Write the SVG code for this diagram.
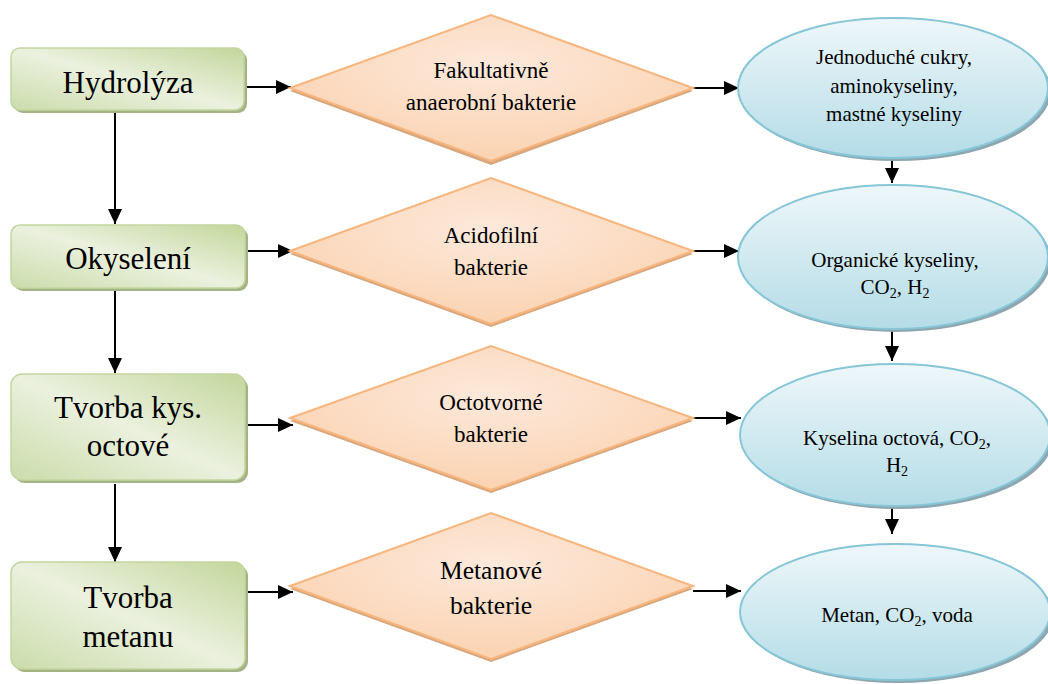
<svg xmlns="http://www.w3.org/2000/svg" width="1048" height="684" viewBox="0 0 1048 684">
<style>
.box{fill:url(#gBox);stroke:#c4d6a0;stroke-width:1.5}
.boxsh{fill:#a3b384}
.dia{fill:url(#gDia);stroke:#f8b67e;stroke-width:2}
.diash{fill:#d8a77d}
.ell{fill:url(#gEll);stroke:#86c6d6;stroke-width:2}
.ellsh{fill:#8ea6b0}
.t{fill:#000;text-anchor:middle}
.tb{font-size:31px}
.td{font-size:23px}
.te{font-size:21px}
.sub{font-size:14px}
.c{stroke:#000;stroke-width:2;fill:none}
</style>
<defs>
<linearGradient id="gBox" x1="1" y1="0" x2="0" y2="1">
<stop offset="0" stop-color="#c3d69b"/>
<stop offset="0.5" stop-color="#ebf1de"/>
<stop offset="1" stop-color="#cbdcab"/>
</linearGradient>
<radialGradient id="gDia" cx="0.5" cy="0.35" r="0.6">
<stop offset="0" stop-color="#fde9db"/>
<stop offset="1" stop-color="#fbd4b4"/>
</radialGradient>
<linearGradient id="gEll" x1="0" y1="0" x2="0" y2="1">
<stop offset="0" stop-color="#eef7fa"/>
<stop offset="1" stop-color="#b4dce7"/>
</linearGradient>
<marker id="ah" markerUnits="userSpaceOnUse" markerWidth="15" markerHeight="14" viewBox="0 0 15 14" refX="15" refY="7" orient="auto">
<path d="M0,0 L15,7 L0,14 z" fill="#000"/>
</marker>
</defs>
<g id="connectors">
<line class="c" x1="115" y1="110" x2="115" y2="224" marker-end="url(#ah)"/>
<line class="c" x1="115" y1="288" x2="115" y2="373" marker-end="url(#ah)"/>
<line class="c" x1="115" y1="484" x2="115" y2="562" marker-end="url(#ah)"/>
<line class="c" x1="245" y1="87" x2="291" y2="87" marker-end="url(#ah)"/>
<line class="c" x1="247" y1="251" x2="293" y2="251" marker-end="url(#ah)"/>
<line class="c" x1="247" y1="425" x2="293" y2="425" marker-end="url(#ah)"/>
<line class="c" x1="247" y1="592" x2="293" y2="592" marker-end="url(#ah)"/>
<line class="c" x1="693" y1="88" x2="739" y2="88" marker-end="url(#ah)"/>
<line class="c" x1="693" y1="251" x2="739" y2="251" marker-end="url(#ah)"/>
<line class="c" x1="693" y1="418" x2="741" y2="418" marker-end="url(#ah)"/>
<line class="c" x1="693" y1="591" x2="741" y2="591" marker-end="url(#ah)"/>
<line class="c" x1="892" y1="158" x2="892" y2="183" marker-end="url(#ah)"/>
<line class="c" x1="892" y1="330" x2="892" y2="361" marker-end="url(#ah)"/>
<line class="c" x1="892" y1="505" x2="892" y2="534" marker-end="url(#ah)"/>
</g>
<g font-family="'Liberation Serif', 'DejaVu Serif', serif">
<g id="box1">
<rect class="boxsh" x="14" y="51" width="233" height="62" rx="9"/>
<rect class="box" x="11" y="48" width="233" height="62" rx="9"/>
<text class="t tb" x="128" y="93">Hydrolýza</text>
</g>
<g id="box2">
<rect class="boxsh" x="14" y="228" width="234" height="63" rx="9"/>
<rect class="box" x="11" y="225" width="234" height="63" rx="9"/>
<text class="t tb" x="128" y="269">Okyselení</text>
</g>
<g id="box3">
<rect class="boxsh" x="14" y="377" width="234" height="106" rx="11"/>
<rect class="box" x="11" y="374" width="234" height="106" rx="11"/>
<text class="t tb" x="128" y="418">Tvorba kys.</text>
<text class="t tb" x="128" y="456">octové</text>
</g>
<g id="box4">
<rect class="boxsh" x="14" y="565" width="234" height="107" rx="11"/>
<rect class="box" x="11" y="562" width="234" height="107" rx="11"/>
<text class="t tb" x="128" y="608">Tvorba</text>
<text class="t tb" x="128" y="647">metanu</text>
</g>
<g id="dia1">
<polygon class="diash" points="290,91 491,18 693,91 491,165"/>
<polygon class="dia" points="290,88 491,15 693,88 491,161"/>
<text class="t td" x="491" y="78">Fakultativně</text>
<text class="t td" x="491" y="110">anaerobní bakterie</text>
</g>
<g id="dia2">
<polygon class="diash" points="290,254 491,181 693,254 491,327"/>
<polygon class="dia" points="290,251 491,178 693,251 491,324"/>
<text class="t td" x="491" y="243">Acidofilní</text>
<text class="t td" x="491" y="275">bakterie</text>
</g>
<g id="dia3">
<polygon class="diash" points="290,421 491,349 693,421 491,493"/>
<polygon class="dia" points="290,418 491,346 693,418 491,490"/>
<text class="t td" x="491" y="410">Octotvorné</text>
<text class="t td" x="491" y="442">bakterie</text>
</g>
<g id="dia4">
<polygon class="diash" points="290,589 491,516 693,589 491,662"/>
<polygon class="dia" points="290,586 491,513 693,586 491,659"/>
<text class="t" font-size="25.5" x="491" y="579">Metanové</text>
<text class="t" font-size="25.5" x="491" y="614">bakterie</text>
</g>
<g id="ell1">
<ellipse class="ellsh" cx="896" cy="91" rx="155" ry="70"/>
<ellipse class="ell" cx="893" cy="88" rx="155" ry="70"/>
<text class="t te" x="894" y="64">Jednoduché cukry,</text>
<text class="t te" x="894" y="93">aminokyseliny,</text>
<text class="t te" x="894" y="121">mastné kyseliny</text>
</g>
<g id="ell2">
<ellipse class="ellsh" cx="896" cy="260" rx="155" ry="72"/>
<ellipse class="ell" cx="893" cy="257" rx="155" ry="72"/>
<text class="t te" x="895" y="267">Organické kyseliny,</text>
<text class="t te" x="895" y="294">CO<tspan class="sub" dy="4">2</tspan><tspan dy="-4">, H</tspan><tspan class="sub" dy="4">2</tspan></text>
</g>
<g id="ell3">
<ellipse class="ellsh" cx="898" cy="438" rx="155" ry="71"/>
<ellipse class="ell" cx="895" cy="435" rx="155" ry="71"/>
<text class="t te" x="897" y="445">Kyselina octová, CO<tspan class="sub" dy="4">2</tspan><tspan dy="-4">,</tspan></text>
<text class="t te" x="897" y="472">H<tspan class="sub" dy="4">2</tspan></text>
</g>
<g id="ell4">
<ellipse class="ellsh" cx="898" cy="615" rx="155" ry="68"/>
<ellipse class="ell" cx="895" cy="612" rx="155" ry="68"/>
<text class="t te" x="897" y="622">Metan, CO<tspan class="sub" dy="4">2</tspan><tspan dy="-4">, voda</tspan></text>
</g>
</g>
</svg>
